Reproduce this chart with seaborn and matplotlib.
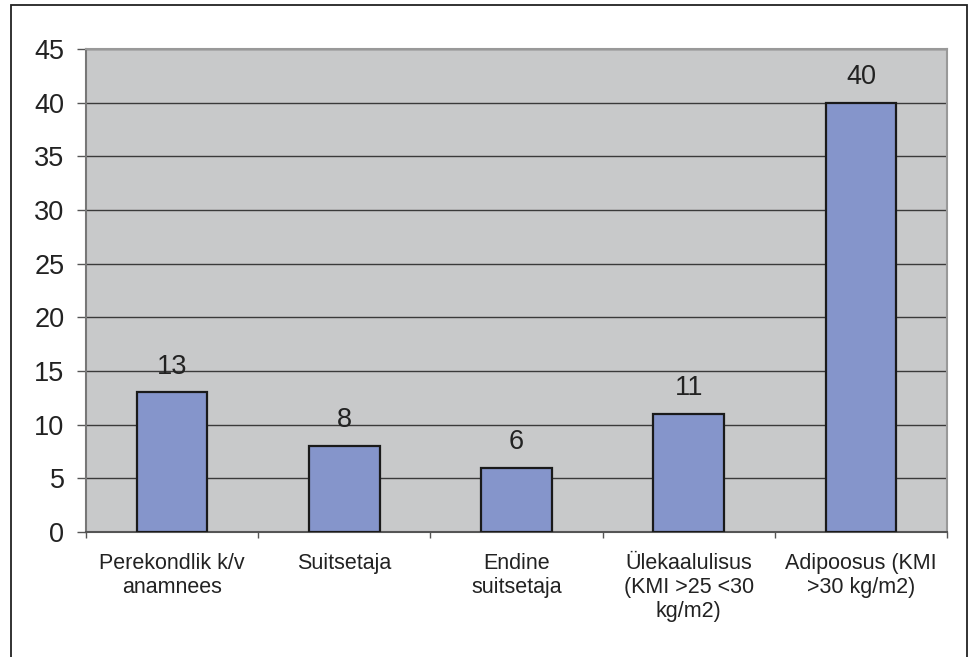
import pandas as pd
import seaborn as sns
import matplotlib.pyplot as plt
from matplotlib.patches import Rectangle

# Data
categories = ['Perekondlik k/v\nanamnees', 'Suitsetaja', 'Endine\nsuitsetaja',
              'Ülekaalulisus\n(KMI >25 <30\nkg/m2)', 'Adipoosus (KMI\n>30 kg/m2)']
values = [13, 8, 6, 11, 40]
y_ticks = [0, 5, 10, 15, 20, 25, 30, 35, 40, 45]

df = pd.DataFrame({'category': categories, 'value': values})

sns.set_style('white')
plt.rcParams['font.family'] = ['Liberation Sans', 'DejaVu Sans']

fig = plt.figure(figsize=(9.72, 6.57), dpi=100)
ax = fig.add_axes([86 / 972, 1 - 532 / 657, (947 - 86) / 972, (532 - 49) / 657])
ax.set_facecolor('#c8c9ca')

sns.barplot(x='category', y='value', data=df, color='#8595cb', width=0.41,
            edgecolor='#1a1a1a', linewidth=1.6, saturation=1, ax=ax, zorder=3)

# Etiketid tulpade kohal
for i, v in enumerate(values):
    ax.annotate(str(v), (i, v), xytext=(0, 13.5), textcoords='offset points',
                ha='center', va='baseline', fontsize=19.5, color='#222222')

ax.set_ylim(0, 45)
ax.set_xlim(-0.5, len(values) - 0.5)
ax.set_yticks(y_ticks)
ax.set_xticks(range(len(values)))
ax.set_xticks([i - 0.5 for i in range(len(values) + 1)], minor=True)
ax.set_xticklabels(categories, fontsize=15.5, color='#222222', linespacing=1.2)
ax.tick_params(axis='y', labelsize=19.5, labelcolor='#222222', direction='out',
               length=6.5, width=1, color='#555555', pad=9, left=True)
ax.tick_params(axis='x', which='major', length=0, pad=15)
ax.tick_params(axis='x', which='minor', direction='out', length=4.5, width=1,
               color='#555555', bottom=True)

ax.yaxis.grid(True, color='#3a3a3a', linewidth=1)
ax.set_axisbelow(True)
ax.set_xlabel('')
ax.set_ylabel('')

for side in ['top', 'right']:
    ax.spines[side].set_color('#999999')
    ax.spines[side].set_linewidth(1.5)
ax.spines['left'].set_color('#777777')
ax.spines['left'].set_linewidth(1.5)
ax.spines['bottom'].set_color('#555555')
ax.spines['bottom'].set_linewidth(1.5)

# Välimine raam
fig.patches.append(Rectangle((11 / 972, -0.2), (967 - 11) / 972, 1.2 - 5 / 657,
                             transform=fig.transFigure, fill=False,
                             edgecolor='#222222', linewidth=1.3))

plt.savefig('out.png', dpi=100)
plt.close()
